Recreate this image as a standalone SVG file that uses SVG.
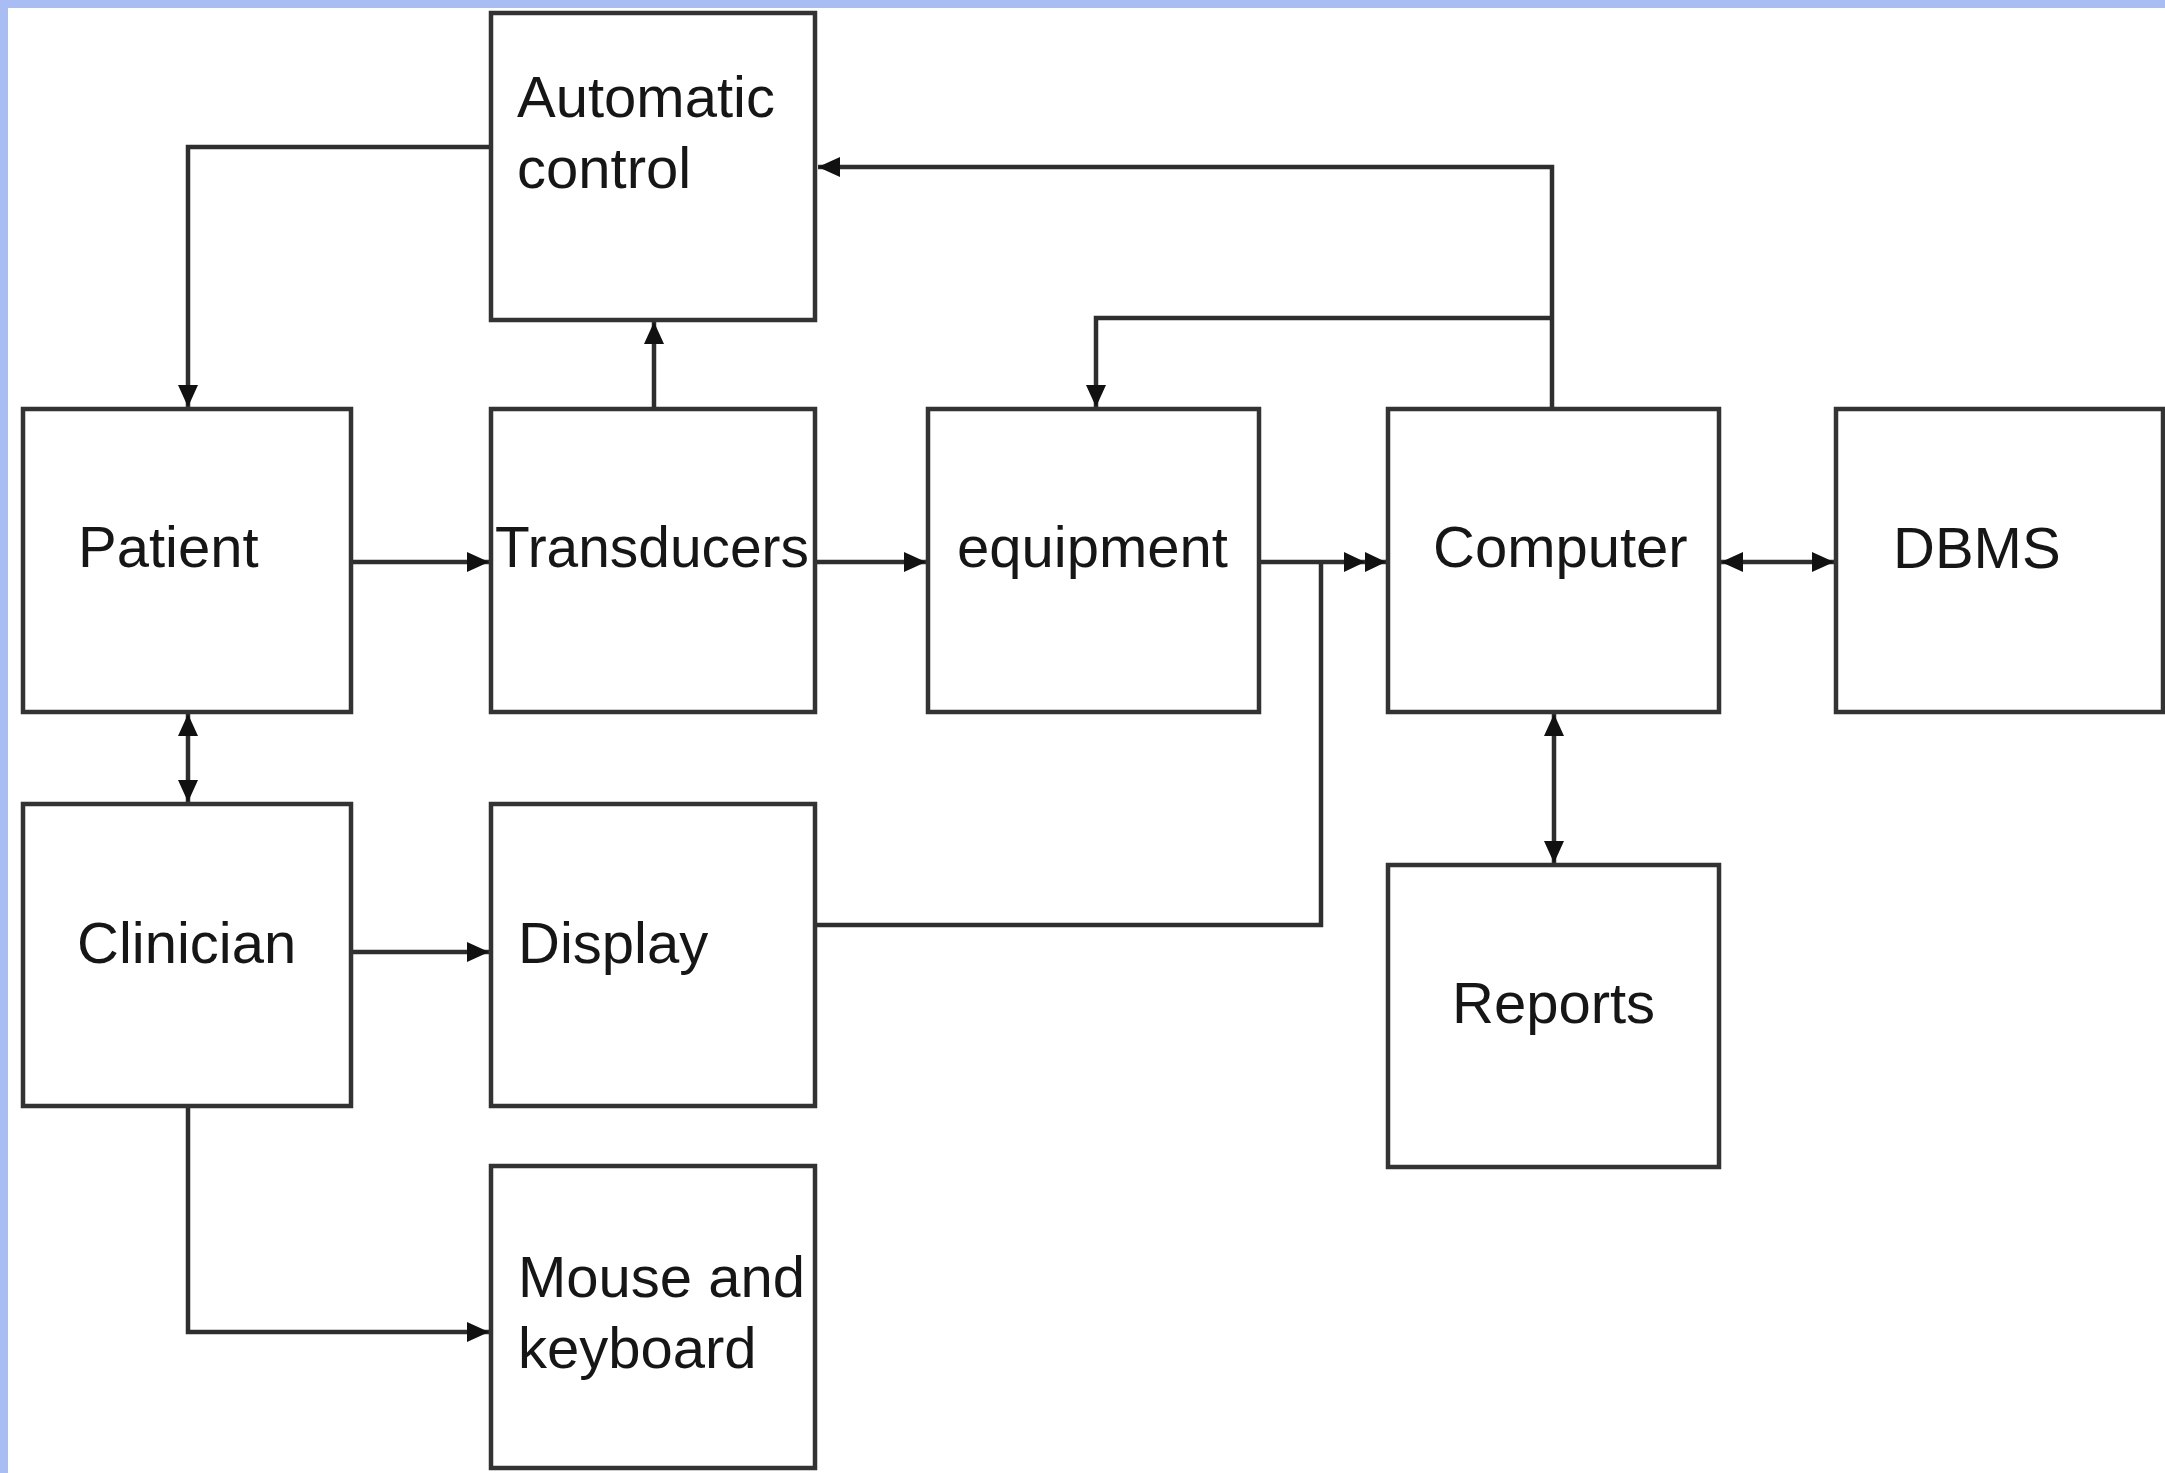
<svg xmlns="http://www.w3.org/2000/svg" width="2165" height="1473" viewBox="0 0 2165 1473">
  <style>
    .box { fill: #ffffff; stroke: #333333; stroke-width: 4.5; }
    .lbl { font-family: "Liberation Sans", Arial, sans-serif; font-size: 58px; fill: #161616; }
    .con { fill: none; stroke: #2e2e2e; stroke-width: 4.5; }
  </style>
  <defs>
    <marker id="ah" markerUnits="userSpaceOnUse" markerWidth="22" markerHeight="20" refX="22" refY="10" orient="auto-start-reverse">
      <path d="M0,0 L22,10 L0,20 z" fill="#111111"/>
    </marker>
    <marker id="ah2" markerUnits="userSpaceOnUse" markerWidth="42" markerHeight="20" refX="42" refY="10" orient="auto">
      <path d="M0,0 L21,10 L0,20 z M21,0 L42,10 L21,20 z" fill="#111111"/>
    </marker>
  </defs>
  <rect x="0" y="0" width="2165" height="1473" fill="#ffffff"/>
  <rect x="0" y="0" width="2165" height="8" fill="#a9bdf5"/>
  <rect x="0" y="0" width="8" height="1473" fill="#a9bdf5"/>

  <g id="connectors">
    <path class="con" d="M491,147 H188 V407" marker-end="url(#ah)"/>
    <path class="con" d="M654,409 V322" marker-end="url(#ah)"/>
    <path class="con" d="M1552,409 V167 H818" marker-end="url(#ah)"/>
    <path class="con" d="M1552,318 H1096 V407" marker-end="url(#ah)"/>
    <path class="con" d="M351,562 H489" marker-end="url(#ah)"/>
    <path class="con" d="M816,562 H926" marker-end="url(#ah)"/>
    <path class="con" d="M1259,562 H1386" marker-end="url(#ah2)"/>
    <path class="con" d="M816,925 H1321 V562"/>
    <path class="con" d="M1721,562 H1834" marker-start="url(#ah)" marker-end="url(#ah)"/>
    <path class="con" d="M188,714 V802" marker-start="url(#ah)" marker-end="url(#ah)"/>
    <path class="con" d="M1554,714 V863" marker-start="url(#ah)" marker-end="url(#ah)"/>
    <path class="con" d="M351,952 H489" marker-end="url(#ah)"/>
    <path class="con" d="M188,1106 V1332 H489" marker-end="url(#ah)"/>
  </g>

  <g id="automatic-control">
    <rect class="box" x="491" y="13" width="324" height="307"/>
    <text class="lbl" x="517" y="117">Automatic</text>
    <text class="lbl" x="517" y="188">control</text>
  </g>
  <g id="patient">
    <rect class="box" x="23" y="409" width="328" height="303"/>
    <text class="lbl" x="78" y="567">Patient</text>
  </g>
  <g id="transducers">
    <rect class="box" x="491" y="409" width="324" height="303"/>
    <text class="lbl" x="495" y="567" textLength="314" lengthAdjust="spacingAndGlyphs">Transducers</text>
  </g>
  <g id="equipment">
    <rect class="box" x="928" y="409" width="331" height="303"/>
    <text class="lbl" x="957" y="567">equipment</text>
  </g>
  <g id="computer">
    <rect class="box" x="1388" y="409" width="331" height="303"/>
    <text class="lbl" x="1433" y="567">Computer</text>
  </g>
  <g id="dbms">
    <rect class="box" x="1836" y="409" width="327" height="303"/>
    <text class="lbl" x="1893" y="568">DBMS</text>
  </g>
  <g id="clinician">
    <rect class="box" x="23" y="804" width="328" height="302"/>
    <text class="lbl" x="77" y="963">Clinician</text>
  </g>
  <g id="display">
    <rect class="box" x="491" y="804" width="324" height="302"/>
    <text class="lbl" x="518" y="963">Display</text>
  </g>
  <g id="reports">
    <rect class="box" x="1388" y="865" width="331" height="302"/>
    <text class="lbl" x="1452" y="1023">Reports</text>
  </g>
  <g id="mouse-keyboard">
    <rect class="box" x="491" y="1166" width="324" height="302"/>
    <text class="lbl" x="518" y="1297">Mouse and</text>
    <text class="lbl" x="518" y="1368">keyboard</text>
  </g>
</svg>
